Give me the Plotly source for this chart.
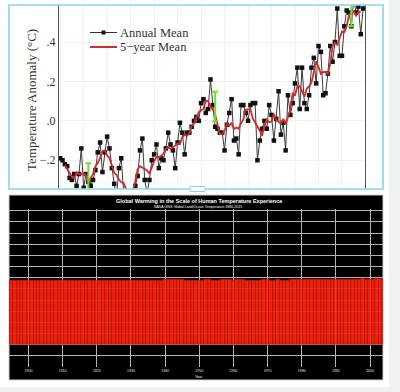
import plotly.graph_objects as go

# ---------------- data ----------------
years_annual = list(range(1880, 2011))
annual_mean = [
    -0.19, -0.20, -0.22, -0.23, -0.29, -0.30, -0.27, -0.33, -0.27, -0.14,
    -0.34, -0.27, -0.31, -0.33, -0.30, -0.25, -0.16, -0.11, -0.26, -0.16,
    -0.08, -0.14, -0.24, -0.32, -0.38, -0.24, -0.19, -0.36, -0.39, -0.40,
    -0.38, -0.38, -0.33, -0.28, -0.15, -0.09, -0.30, -0.37, -0.30, -0.20,
    -0.17, -0.12, -0.24, -0.19, -0.20, -0.14, -0.06, -0.12, -0.15, -0.24,
    -0.11, -0.01, -0.06, -0.17, -0.06, -0.06, -0.03, 0.00, 0.02, 0.00,
    0.09, 0.11, 0.04, 0.06, 0.21, 0.08, -0.03, -0.04, -0.06, -0.06,
    -0.15, -0.02, 0.04, 0.11, -0.10, -0.09, -0.17, 0.08, 0.08, 0.04,
    0.00, 0.08, 0.09, 0.09, -0.20, -0.10, -0.04, 0.00, -0.04, 0.08,
    0.03, -0.10, 0.01, 0.15, -0.07, -0.01, -0.15, 0.13, 0.03, 0.09,
    0.19, 0.27, 0.06, 0.27, 0.09, 0.06, 0.13, 0.27, 0.32, 0.19,
    0.38, 0.35, 0.13, 0.14, 0.24, 0.38, 0.30, 0.40, 0.57, 0.33,
    0.33, 0.48, 0.56, 0.55, 0.48, 0.62, 0.55, 0.58, 0.44, 0.57,
    0.63,
]

years_5yr = list(range(1882, 2009))
five_year_mean = [
    -0.226, -0.248, -0.262, -0.284, -0.292, -0.262, -0.270, -0.270,
    -0.266, -0.278, -0.310, -0.292, -0.270, -0.230, -0.216, -0.188, -0.154, -0.150,
    -0.176, -0.188, -0.232, -0.264, -0.274, -0.298, -0.312, -0.316, -0.344, -0.382,
    -0.376, -0.354, -0.304, -0.246, -0.230, -0.238, -0.242, -0.252, -0.268, -0.232,
    -0.206, -0.184, -0.184, -0.178, -0.166, -0.142, -0.134, -0.142, -0.136, -0.126,
    -0.114, -0.118, -0.082, -0.072, -0.076, -0.064, -0.026, -0.014, 0.016, 0.044,
    0.052, 0.060, 0.102, 0.100, 0.072, 0.056, 0.032, -0.022, -0.068, -0.066,
    -0.050, -0.016, -0.024, -0.012, -0.042, -0.034, -0.040, -0.012, 0.006, 0.056,
    0.058, 0.060, 0.012, -0.008, -0.032, -0.050, -0.076, -0.020, 0.006, -0.006,
    -0.004, 0.034, 0.004, -0.004, -0.014, 0.010, -0.014, 0.018, 0.058, 0.142,
    0.128, 0.176, 0.176, 0.150, 0.122, 0.164, 0.174, 0.194, 0.258, 0.302,
    0.274, 0.238, 0.248, 0.248, 0.238, 0.292, 0.378, 0.396, 0.386, 0.422,
    0.454, 0.450, 0.480, 0.538, 0.552, 0.556, 0.534, 0.552, 0.554,
]

uncert_years = [1892, 1946, 2004]
uncert_center = [-0.29, 0.073, 0.55]
uncert_half = [0.075, 0.075, 0.07]

y_tick_vals = [0.4, 0.2, 0.0, -0.2]
y_tick_text = [".4", ".2", ".0", "\u2212.2"]

bar_years = list(range(1894, 2005))
bar_temps_f = [
    57.3, 57.4, 57.5, 57.6, 57.3, 57.5,
    57.7, 57.5, 57.4, 57.2, 57.1, 57.4, 57.5, 57.2, 57.1, 57.1,
    57.1, 57.1, 57.2, 57.3, 57.5, 57.6, 57.3, 57.1, 57.3, 57.4,
    57.5, 57.6, 57.4, 57.5, 57.4, 57.5, 57.7, 57.6, 57.5, 57.4,
    57.6, 57.8, 57.7, 57.5, 57.7, 57.7, 57.7, 57.8, 57.8, 57.8,
    58.0, 58.0, 57.9, 57.9, 58.2, 57.9, 57.7, 57.7, 57.7, 57.7,
    57.5, 57.8, 57.9, 58.0, 57.6, 57.6, 57.5, 57.9, 57.9, 57.9,
    57.8, 57.9, 58.0, 58.0, 57.4, 57.6, 57.7, 57.8, 57.7, 57.9,
    57.9, 57.6, 57.8, 58.1, 57.7, 57.8, 57.5, 58.0, 57.9, 58.0,
    58.1, 58.3, 57.9, 58.3, 58.0, 57.9, 58.0, 58.3, 58.4, 58.1,
    58.5, 58.4, 58.0, 58.1, 58.2, 58.5, 58.3, 58.5, 58.8, 58.4,
    58.4, 58.7, 58.8, 58.8, 58.7,
]
bar_tick_vals = list(range(1900, 2001, 10))
bar_tick_text = [str(v) for v in bar_tick_vals]

# ---------------- helpers (pixel -> paper) ----------------
W, H = 400, 392
def px(x):
    return x / W
def py(y):
    return 1 - y / H

SERIF = "Liberation Serif, Times New Roman, serif"
SANS = "Liberation Sans, Arial, sans-serif"

fig = go.Figure()

# top chart traces
fig.add_trace(go.Scatter(
    x=years_annual, y=annual_mean, mode="lines+markers",
    line=dict(color="#3a3a3a", width=1),
    marker=dict(symbol="square", size=4.5, color="#111111"),
    xaxis="x", yaxis="y", showlegend=False, name="Annual Mean",
))
fig.add_trace(go.Scatter(
    x=years_5yr, y=five_year_mean, mode="lines",
    line=dict(color="#d42a2a", width=1.8),
    xaxis="x", yaxis="y", showlegend=False, name="5-year Mean",
))
fig.add_trace(go.Scatter(
    x=uncert_years, y=uncert_center, mode="markers",
    marker=dict(size=1, opacity=0),
    error_y=dict(type="data", array=uncert_half, color="#6ee02a", thickness=2, width=3),
    xaxis="x", yaxis="y", showlegend=False,
))

# bottom chart bars
fig.add_trace(go.Bar(
    x=bar_years, y=bar_temps_f, base=0,
    marker=dict(color="#ff2510", line=dict(color="#c0170a", width=0.7)),
    opacity=0.93,
    xaxis="x2", yaxis="y2", showlegend=False,
))

shapes = [
    # white card
    dict(type="rect", xref="paper", yref="paper", x0=px(0), x1=px(389), y0=py(387), y1=py(0),
         fillcolor="white", line=dict(width=0), layer="below"),
    # black panel
    dict(type="rect", xref="paper", yref="paper", x0=px(9), x1=px(383), y0=py(380), y1=py(195),
         fillcolor="black", line=dict(color="#cfd3d6", width=1), layer="below"),
    # light blue selection border around top chart
    dict(type="rect", xref="paper", yref="paper", x0=px(9), x1=px(383), y0=py(189), y1=py(5),
         fillcolor="rgba(0,0,0,0)", line=dict(color="#8ad3ec", width=1.6), layer="above"),
    # handle
    dict(type="rect", xref="paper", yref="paper", x0=px(190), x1=px(205), y0=py(191.5), y1=py(186.5),
         fillcolor="white", line=dict(color="#8ad3ec", width=1), layer="above"),
    # legend samples
    dict(type="line", xref="paper", yref="paper", x0=px(90), x1=px(117), y0=py(32.5), y1=py(32.5),
         line=dict(color="#333333", width=1), layer="above"),
    dict(type="rect", xref="paper", yref="paper", x0=px(101.5), x1=px(105.5), y0=py(34.5), y1=py(30.5),
         fillcolor="#111111", line=dict(width=0), layer="above"),
    dict(type="line", xref="paper", yref="paper", x0=px(90), x1=px(117), y0=py(47), y1=py(47),
         line=dict(color="#d42a2a", width=2), layer="above"),
]

annotations = [
    dict(text="Annual Mean", xref="paper", yref="paper", x=px(118), y=py(32.5),
         xanchor="left", yanchor="middle", showarrow=False,
         font=dict(family=SERIF, size=12.5, color="#333333")),
    dict(text="5\u2212year Mean", xref="paper", yref="paper", x=px(118), y=py(47.5),
         xanchor="left", yanchor="middle", showarrow=False,
         font=dict(family=SERIF, size=12.5, color="#333333")),
    dict(text="Temperature Anomaly (\u00b0C)", xref="paper", yref="paper", x=px(32), y=py(100),
         xanchor="center", yanchor="middle", textangle=-90, showarrow=False,
         font=dict(family=SERIF, size=13, color="#333333")),
    dict(text="<b>Global Warming in the Scale of Human Temperature Experience</b>",
         xref="paper", yref="paper", x=px(199), y=py(201), xanchor="center", yanchor="middle",
         showarrow=False, font=dict(family=SANS, size=5.5, color="white")),
    dict(text="NASA GISS Global Land/Ocean Temperature 1880-2015",
         xref="paper", yref="paper", x=px(198), y=py(206.5), xanchor="center", yanchor="middle",
         showarrow=False, font=dict(family=SANS, size=3.5, color="white")),
    dict(text="Year", xref="paper", yref="paper", x=px(199), y=py(376.5), xanchor="center",
         yanchor="middle", showarrow=False, font=dict(family=SANS, size=3.5, color="white")),
]

fig.update_layout(
    width=W, height=H,
    margin=dict(l=0, r=0, t=0, b=0),
    paper_bgcolor="#eff1f3",
    plot_bgcolor="rgba(0,0,0,0)",
    bargap=0,
    shapes=shapes,
    annotations=annotations,
    xaxis=dict(domain=[px(59), px(365)], range=[1879.5, 2009.8], showticklabels=False,
               showgrid=True, gridcolor="#f2f2f2", dtick=10, zeroline=False, ticks="",
               showline=False, anchor="y"),
    yaxis=dict(domain=[py(189), py(5)], range=[-0.346, 0.588], tickvals=y_tick_vals,
               ticktext=y_tick_text, showgrid=True, gridcolor="#f0f0f0", zeroline=False,
               showline=True, linecolor="#555555", linewidth=1, mirror=True, ticks="",
               tickfont=dict(family=SERIF, size=12, color="#333333"), anchor="x"),
    xaxis2=dict(domain=[px(9), px(383)], range=[1894.3, 2003.8], tickvals=bar_tick_vals,
                ticktext=bar_tick_text, showgrid=True, gridcolor="#b4b4b4", gridwidth=1,
                zeroline=False, ticks="", showline=False,
                tickfont=dict(family=SANS, size=3.5, color="#e0e0e0"), anchor="y2"),
    yaxis2=dict(domain=[py(367.3), py(208.6)], range=[-20.3, 122], dtick=10,
                showgrid=True, gridcolor="#b4b4b4", gridwidth=1, zeroline=False,
                showticklabels=False, ticks="", showline=False, anchor="x2"),
)

fig.write_html("out.html")
